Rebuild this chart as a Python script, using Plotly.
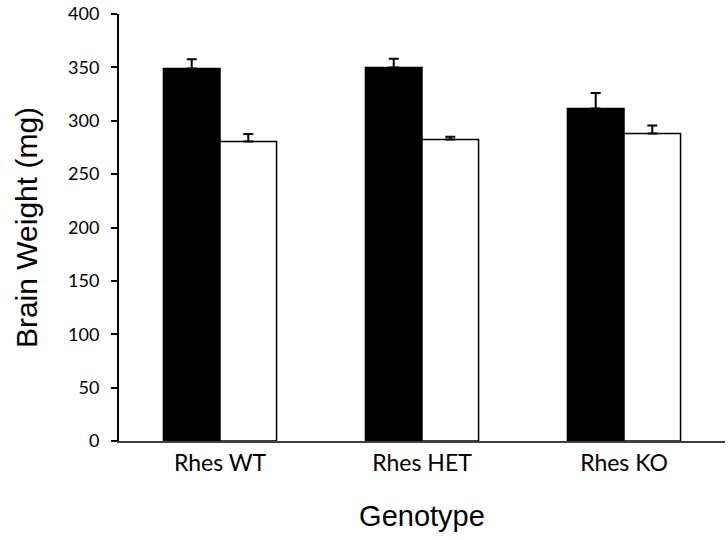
import plotly.graph_objects as go

categories = ["Rhes WT", "Rhes HET", "Rhes KO"]
series_a = [349, 350, 311.5]
series_a_err = [8.5, 8, 14.5]
series_b = [280.5, 282.5, 288]
series_b_err = [7, 2.5, 7.5]
y_ticks = [0, 50, 100, 150, 200, 250, 300, 350, 400]

fig = go.Figure()
fig.add_trace(go.Bar(
    x=categories, y=series_a, name="A",
    marker=dict(color="black", line=dict(color="black", width=1.5)),
    error_y=dict(type="data", array=series_a_err, symmetric=False,
                 arrayminus=[0, 0, 0], color="black", thickness=2, width=5),
))
fig.add_trace(go.Bar(
    x=categories, y=series_b, name="B",
    marker=dict(color="white", line=dict(color="black", width=1.5)),
    error_y=dict(type="data", array=series_b_err, symmetric=False,
                 arrayminus=[0, 0, 0], color="black", thickness=2, width=5),
))

fig.update_layout(
    width=728, height=540,
    margin=dict(l=119, r=3, t=14, b=99, autoexpand=False),
    paper_bgcolor="white", plot_bgcolor="white",
    barmode="group", bargap=0.44, bargroupgap=0,
    showlegend=False,
    font=dict(family="Lato, Liberation Sans, sans-serif", color="black"),
)
fig.update_xaxes(
    automargin=False,
    showline=True, linecolor="#404040", linewidth=2,
    ticks="", tickfont=dict(size=23, family="Lato, sans-serif"),
    title=dict(text="Genotype", font=dict(size=29, family="Liberation Sans, Arial, sans-serif"), standoff=31),
)
fig.update_yaxes(
    automargin=False,
    range=[0, 400], tickvals=y_ticks,
    showline=True, linecolor="black", linewidth=2,
    ticks="outside", ticklen=6, tickwidth=1.5, tickcolor="black",
    ticklabelstandoff=8,
    showgrid=False, zeroline=False,
    tickfont=dict(size=18, family="Lato, sans-serif"),
    title=dict(text="Brain Weight (mg)", font=dict(size=30, family="Liberation Sans, Arial, sans-serif"), standoff=22),
)

fig.write_html("out.html", config={"displayModeBar": False},
               post_script="document.body.style.margin='0';")
